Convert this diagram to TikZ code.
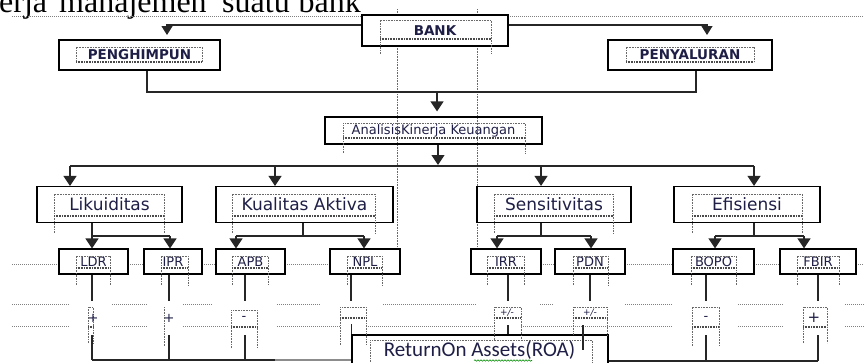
\documentclass[tikz,border=0pt]{standalone}
\usepackage{fontspec}
\setmainfont{Liberation Serif}
\newfontfamily\dvs{DejaVu Sans}
\newfontfamily\cbr{Carlito}
\usetikzlibrary{arrows.meta,decorations.pathmorphing}
\definecolor{tx}{RGB}{30,30,70}
\definecolor{dotc}{RGB}{105,105,105}
\newcommand\innerfr[5]{%
  \draw[idot] (#1,#5) -- (#1,#2) -- (#3,#2) -- (#3,#5);
  \draw[idot2] (#1,#4) -- (#3,#4);}
\begin{document}
\begin{tikzpicture}[x=1pt,y=-1pt,
  obox/.style={draw=black, line width=1.2pt, rectangle, inner sep=0pt, text=tx},
  ln/.style={draw=black!85, line width=1.2pt},
  arr/.style={ln, -{Triangle[width=13pt,length=10pt]}},
  arrs/.style={ln, -{Triangle[width=11pt,length=9pt]}},
  idot/.style={draw=dotc, line width=0.7pt, dash pattern=on 0.8pt off 0.8pt},
  idot2/.style={draw=dotc!70!black, line width=1.2pt, dash pattern=on 0.8pt off 0.8pt},
  gdot/.style={draw=black!50, line width=0.6pt, dash pattern=on 1pt off 1pt},
  lab/.style={text=tx, inner sep=0pt},
  head/.style={inner sep=0pt, font=\fontsize{32}{35}\selectfont},
  up/.style={font=\dvs\bfseries\fontsize{13.5}{15}\selectfont},
  l2/.style={font=\dvs\fontsize{17}{19}\selectfont},
  l3/.style={font=\dvs\fontsize{13}{14}\selectfont}]
\useasboundingbox (0,0) rectangle (864,362);
\clip (0,0) rectangle (864,362);

% ---------- heading text ----------
\node[head, anchor=base west] (t1) at (-1,12.5) {erja};
\node[head, anchor=base west] (t2) at (59,12.5) {manajemen};
\node[head, anchor=base west] (t3) at (222,12.5) {suatu};
\node[head, anchor=base east] (t4) at (361,12.5) {bank};

% ---------- background dotted grid ----------
\draw[gdot] (12,16) -- (362,16);
\draw[gdot] (508,16) -- (864,16);
\foreach \a/\b in {12/59,128/144,202/216,285/330,541/555,625/673,754/780,856/864}
  \draw[gdot] (\a,264) -- (\b,264);
\foreach \a/\b in {12/70,112/147,183/213,277/320,383/477,540/553,625/673,738/783,845/864}
  \draw[gdot] (\a,304) -- (\b,304);
\foreach \a/\b in {12/70,112/147,183/228,277/340,366/493,521/673,738/783,845/864}
  \draw[gdot] (\a,326) -- (\b,326);
\draw[idot] (397,9) -- (397,15);
\draw[idot] (477,9) -- (477,15);
\draw[idot] (397,46) -- (397,249);
\draw[idot] (477,46) -- (477,249);

% ---------- boxes ----------
\node[obox, up, minimum width=146pt, minimum height=31pt] (bank) at (435,30.5) {BANK};
\node[obox, up, minimum width=161pt, minimum height=30pt] (pengh) at (139.5,55) {PENGHIMPUN};
\node[obox, up, minimum width=164pt, minimum height=30pt] (penya) at (690,55) {PENYALURAN};
\node[obox, font=\dvs\fontsize{13}{15}\selectfont, minimum width=217pt, minimum height=27pt] (anal) at (433.5,130.5) {AnalisisKinerja Keuangan};

\node[obox, l2, minimum width=145pt, minimum height=36pt] (lik) at (109.5,204.5) {Likuiditas};
\node[obox, l2, minimum width=177pt, minimum height=36pt] (kual) at (304.5,204.5) {Kualitas Aktiva};
\node[obox, l2, minimum width=154pt, minimum height=36pt] (sens) at (554,204.5) {Sensitivitas};
\node[obox, l2, minimum width=146pt, minimum height=36pt] (efi) at (747,204.5) {Efisiensi};

\node[obox, l3, minimum width=69pt, minimum height=25pt] (ldr) at (93.5,261.5) {LDR};
\node[obox, l3, minimum width=58pt, minimum height=25pt] (ipr) at (173,261.5) {IPR};
\node[obox, l3, minimum width=69pt, minimum height=25pt] (apb) at (250.5,261.5) {APB};
\node[obox, l3, minimum width=70pt, minimum height=25pt] (npl) at (365,261.5) {NPL};
\node[obox, l3, minimum width=70pt, minimum height=25pt] (irr) at (506,261.5) {IRR};
\node[obox, l3, minimum width=70pt, minimum height=25pt] (pdn) at (590,261.5) {PDN};
\node[obox, l3, minimum width=81pt, minimum height=25pt] (bopo) at (713.5,261.5) {BOPO};
\node[obox, l3, minimum width=76pt, minimum height=25pt] (fbir) at (818,261.5) {FBIR};

\node[obox, minimum width=256pt, minimum height=40pt] (roa) at (480,355) {};
\node[lab, anchor=base, font=\cbr\fontsize{21}{24}\selectfont] (roatext) at (479.5,356) {ReturnOn Assets(ROA)};
\draw[green!55!black, line width=0.6pt, decorate, decoration={snake, amplitude=0.7pt, segment length=3pt}] (474,360.5) -- (532,360.5);

% ---------- inner dotted frames ----------
\innerfr{380}{20}{491}{39}{54}
\innerfr{76}{47}{202}{62}{62}
\innerfr{626}{47}{754}{62}{62}
\innerfr{343}{123}{525}{138}{153}
\innerfr{54}{194}{164}{216}{233}
\innerfr{232}{194}{375}{216}{233}
\innerfr{494}{194}{613}{216}{233}
\innerfr{692}{194}{802}{216}{233}
\innerfr{76}{256}{110}{268}{285}
\innerfr{161}{256}{188}{268}{285}
\innerfr{232}{256}{268}{268}{285}
\innerfr{347}{256}{382}{268}{285}
\innerfr{487}{256}{524}{268}{285}
\innerfr{573}{256}{608}{268}{285}
\innerfr{691}{256}{736}{268}{285}
\innerfr{797}{256}{839}{268}{285}
% sign frames
\innerfr{88}{307}{93}{327}{343}
\draw[idot] (164,307) -- (164,346);
\innerfr{231}{310}{257}{327}{348}
\innerfr{340}{307}{366}{318}{345}
\innerfr{494}{307}{521}{318}{340}
\innerfr{573}{307}{607}{318}{335}
\innerfr{692}{307}{719}{327}{346}
\innerfr{803}{307}{827}{327}{343}
\draw[idot] (370,370) -- (370,340) -- (592,340) -- (592,370);

% ---------- signs ----------
\node[lab, font=\dvs\fontsize{13}{14}\selectfont] (s1) at (93,318) {+};
\node[lab, font=\dvs\fontsize{13}{14}\selectfont] (s2) at (169,318) {+};
\node[lab, font=\dvs\fontsize{13}{14}\selectfont] (s3) at (244,318) {-};
\node[lab, font=\dvs\itshape\fontsize{9}{10}\selectfont] (s5) at (507,313) {+/-};
\node[lab, font=\dvs\itshape\fontsize{9}{10}\selectfont] (s6) at (590,313) {+/-};
\node[lab, font=\dvs\fontsize{13}{14}\selectfont] (s7) at (706,318) {-};
\node[lab, font=\dvs\fontsize{15}{16}\selectfont] (s8) at (814,318) {+};

% ---------- connectors: top ----------
\coordinate (tl) at (167,25);
\coordinate (tr) at (707,25);
\draw[arrs] (bank.west |- tl) -- (tl) -- (tl |- 0,35);
\draw[arrs] (bank.east |- tr) -- (tr) -- (tr |- 0,35);
\coordinate (jl) at (147,92);
\coordinate (jr) at (696,92);
\draw[ln] (pengh.south -| jl) -- (jl) -- (jr) -- (penya.south -| jr);
\coordinate (jm) at (437,92);
\draw[arr, shorten >=5pt] (jm) -- (anal.north -| jm);

% ---------- connectors: level 2 ----------
\coordinate (h2) at (438,166);
\draw[arr] (anal.south -| h2) -- ([yshift=1pt]h2);
\draw[ln] (70,166) -- (754,166);
\foreach \x/\n in {70/lik,275/kual,541/sens,754/efi}
  \draw[arr] (\x,166) -- (\n.north -| \x,0);

% ---------- connectors: level 3 ----------
\draw[ln] (lik.south -| 92,0) -- (92,236) -- (170,236);
\draw[arr] (92,236) -- (ldr.north -| 92,0);
\draw[arr] (170,236) -- (ipr.north -| 170,0);
\draw[ln] (kual.south -| 303,0) -- (303,236);
\draw[ln] (236,236) -- (364,236);
\draw[arr] (236,236) -- (apb.north -| 236,0);
\draw[arr] (364,236) -- (npl.north -| 364,0);
\draw[ln] (sens.south -| 541,0) -- (541,236);
\draw[ln] (497,236) -- (591,236);
\draw[arr] (497,236) -- (irr.north -| 497,0);
\draw[arr] (591,236) -- (pdn.north -| 591,0);
\draw[ln] (efi.south -| 754,0) -- (754,236);
\draw[ln] (715,236) -- (804,236);
\draw[arr] (715,236) -- (bopo.north -| 715,0);
\draw[arr] (804,236) -- (fbir.north -| 804,0);

% ---------- connectors: to signs ----------
\foreach \x/\n in {92/ldr,169/ipr,245/apb,351/npl,508/irr,590/pdn,706/bopo,818/fbir}
  \draw[ln] (\n.south -| \x,0) -- (\x,301);

% ---------- connectors: to ROA ----------
\foreach \x in {92,169,245}
  \draw[ln] (\x,335) -- (\x,360);
\draw[ln] (92,360) -- (275,360);
\draw[draw=black!45, line width=1.2pt] (275,360) -- (roa.west |- 0,360);
\draw[ln] (roa.north west) -- ++(0,-10);
\coordinate (irrb) at (508,325);
\draw[ln] (irrb) -- (irrb |- roa.north);
\draw[ln] (583,325) -- (583,350);
\foreach \x in {706,818}
  \draw[ln] (\x,335) -- (\x,361);
\draw[ln] (roa.east |- 0,361) -- (818,361);
\end{tikzpicture}
\end{document}
